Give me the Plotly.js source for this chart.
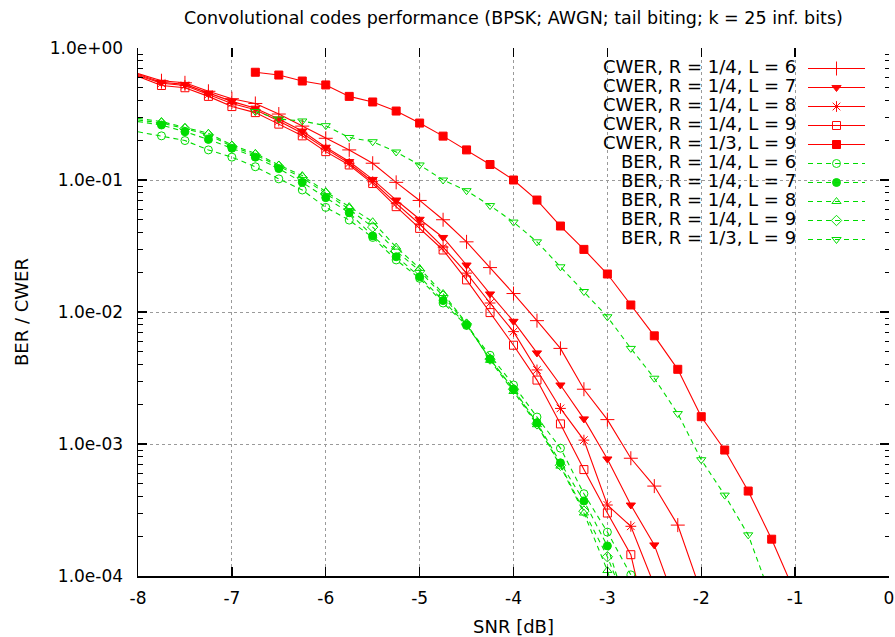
<!DOCTYPE html>
<html>
<head>
<meta charset="utf-8">
<script src="https://cdn.plot.ly/plotly-3.0.1.min.js"></script>
<style>html,body{margin:0;padding:0;background:#fff;}#chart{width:895px;height:637px;}</style>
</head>
<body>
<div id="chart"></div>
<script>
// ---- data ----
const snrQuarter = [-8, -7.75, -7.5, -7.25, -7, -6.75, -6.5, -6.25, -6, -5.75, -5.5, -5.25, -5,
  -4.75, -4.5, -4.25, -4, -3.75, -3.5, -3.25, -3, -2.75, -2.5, -2.25, -2];
const snrThird = [-6.75, -6.5, -6.25, -6, -5.75, -5.5, -5.25, -5, -4.75, -4.5, -4.25, -4, -3.75,
  -3.5, -3.25, -3, -2.75, -2.5, -2.25, -2, -1.75, -1.5, -1.25, -1];

const cwerR14L6 = [0.64, 0.565, 0.545, 0.47, 0.413, 0.38, 0.316, 0.256, 0.207, 0.169, 0.134, 0.096, 0.07,
  0.05, 0.034, 0.0217, 0.0138, 0.0086, 0.0053, 0.0026, 0.00153, 7.8e-4, 4.8e-4, 2.43e-4, 7.5e-5];
const cwerR14L7 = [0.63, 0.55, 0.53, 0.455, 0.394, 0.35, 0.29, 0.235, 0.177, 0.138, 0.101, 0.0705, 0.0504,
  0.0367, 0.0227, 0.0137, 0.0085, 0.0049, 0.0028, 0.00155, 7.7e-4, 3.45e-4, 1.72e-4, 5.6e-5];
const cwerR14L8 = [0.62, 0.54, 0.52, 0.445, 0.38, 0.34, 0.28, 0.226, 0.172, 0.134, 0.097, 0.0666, 0.0464,
  0.031, 0.0197, 0.0117, 0.0071, 0.00364, 0.00186, 0.00107, 3.45e-4, 2.38e-4, 8.5e-5];
const cwerR14L9 = [0.61, 0.52, 0.5, 0.43, 0.36, 0.324, 0.265, 0.216, 0.164, 0.13, 0.094, 0.0628, 0.043,
  0.0295, 0.0175, 0.0099, 0.0056, 0.00305, 0.00142, 6.4e-4, 3.0e-4, 1.45e-4, 2.5e-5];
const cwerR13L9 = [0.655, 0.624, 0.562, 0.525, 0.43, 0.39, 0.333, 0.27, 0.215, 0.169, 0.131, 0.1, 0.0705,
  0.0448, 0.0298, 0.0194, 0.0113, 0.0066, 0.00368, 0.00161, 9.0e-4, 4.4e-4, 1.9e-4, 7.4e-5];

const berR14L6 = [0.232, 0.216, 0.199, 0.169, 0.149, 0.126, 0.102, 0.084, 0.062, 0.0497, 0.0367, 0.0248, 0.018,
  0.0117, 0.0079, 0.0047, 0.0028, 0.0016, 9.3e-4, 4.2e-4, 2.15e-4, 1.02e-4];
const berR14L7 = [0.277, 0.261, 0.232, 0.203, 0.174, 0.149, 0.122, 0.096, 0.0735, 0.0565, 0.0377, 0.0262, 0.0185,
  0.0122, 0.008, 0.0044, 0.0026, 0.00145, 7.2e-4, 3.7e-4, 1.69e-4, 4.6e-5];
const berR14L8 = [0.293, 0.277, 0.25, 0.226, 0.184, 0.159, 0.13, 0.108, 0.0816, 0.0628, 0.0483, 0.031, 0.0214,
  0.0138, 0.0082, 0.0043, 0.0025, 0.0014, 6.8e-4, 3.0e-4, 1.1e-4, 3e-5];
const berR14L9 = [0.285, 0.27, 0.245, 0.22, 0.18, 0.155, 0.127, 0.104, 0.079, 0.06, 0.044, 0.029, 0.0205,
  0.0132, 0.0081, 0.0044, 0.0026, 0.00142, 6.9e-4, 3.1e-4, 1.4e-4, 5e-5];
const berR13L9 = [0.33, 0.29, 0.28, 0.258, 0.21, 0.195, 0.163, 0.13, 0.1, 0.083, 0.064, 0.048, 0.034,
  0.022, 0.0143, 0.0092, 0.0053, 0.00315, 0.0017, 7.6e-4, 4.1e-4, 2.05e-4, 6.7e-5];

const seriesNames = [
  'CWER, R = 1/4, L = 6', 'CWER, R = 1/4, L = 7', 'CWER, R = 1/4, L = 8', 'CWER, R = 1/4, L = 9',
  'CWER, R = 1/3, L = 9', 'BER, R = 1/4, L = 6', 'BER, R = 1/4, L = 7', 'BER, R = 1/4, L = 8',
  'BER, R = 1/4, L = 9', 'BER, R = 1/3, L = 9'];
const xTickVals = [-8, -7, -6, -5, -4, -3, -2, -1, 0];
const xTickText = ['-8', '-7', '-6', '-5', '-4', '-3', '-2', '-1', '0'];
const yTickVals = [1, 0.1, 0.01, 0.001, 0.0001];
const yTickText = ['1.0e+00', '1.0e-01', '1.0e-02', '1.0e-03', '1.0e-04'];

// ---- styling ----
const RED = '#ff0000';
const GREEN = '#00dc00';
const X_MIN = -8, X_MAX = 0;
const W = 895, H = 637;
const M = {l: 138, r: 6, t: 48, b: 61};
const PW = W - M.l - M.r, PH = H - M.t - M.b;
const FONT = 'DejaVu Sans, Liberation Sans, Arial, sans-serif';

const specs = [
  {x: snrQuarter, y: cwerR14L6, c: RED, sym: 'cross-thin-open', size: 10, dash: 'solid'},
  {x: snrQuarter, y: cwerR14L7, c: RED, sym: 'triangle-down', size: 8, dash: 'solid'},
  {x: snrQuarter, y: cwerR14L8, c: RED, sym: 'asterisk-open', size: 9, dash: 'solid'},
  {x: snrQuarter, y: cwerR14L9, c: RED, sym: 'square-open', size: 8, dash: 'solid'},
  {x: snrThird,   y: cwerR13L9, c: RED, sym: 'square', size: 8, dash: 'solid'},
  {x: snrQuarter, y: berR14L6, c: GREEN, sym: 'circle-open', size: 8, dash: '5px,4px'},
  {x: snrQuarter, y: berR14L7, c: GREEN, sym: 'circle', size: 8, dash: '5px,4px'},
  {x: snrQuarter, y: berR14L8, c: GREEN, sym: 'triangle-up-open', size: 8, dash: '5px,4px'},
  {x: snrQuarter, y: berR14L9, c: GREEN, sym: 'diamond-open', size: 8, dash: '5px,4px'},
  {x: snrThird,   y: berR13L9, c: GREEN, sym: 'triangle-down-open', size: 8, dash: '5px,4px'}
];

const traces = specs.map((s, i) => {
  const xs = s.x.slice(0, s.y.length);
  return {
    type: 'scatter', mode: 'lines+markers',
    x: xs, y: s.y,
    name: '', legendgroup: 'g' + i,
    hovertext: seriesNames[i],
    line: {color: s.c, width: 1.1, dash: s.dash},
    marker: {
      symbol: s.sym, size: s.size, color: s.c,
      // points lying on the plot border are not drawn (as in the reference)
      opacity: xs.map(v => (v <= X_MIN ? 0 : 1)),
      line: {color: s.c, width: 1}
    },
    cliponaxis: true
  };
});
// empty trace so the mirrored tick axes are drawn
traces.push({type: 'scatter', x: [], y: [], xaxis: 'x2', yaxis: 'y2', showlegend: false, hoverinfo: 'skip'});

// minor log ticks
const minorVals = [];
for (let d = -4; d < 0; d++) for (let k = 2; k <= 9; k++) minorVals.push(k * Math.pow(10, d));

const px2paperX = p => (p - M.l) / PW;
const px2paperY = p => (H - M.b - p) / PH;

const legendRow0 = 66.7, legendStep = 19.03;
const annotations = seriesNames.map((n, i) => ({
  text: n, xref: 'paper', yref: 'paper',
  x: px2paperX(798), y: px2paperY(legendRow0 + legendStep * i),
  xanchor: 'right', yanchor: 'middle', showarrow: false,
  font: {family: FONT, size: 18, color: '#000'}
}));

const axisCommon = {
  ticks: 'inside', ticklen: 9, tickwidth: 1.3, tickcolor: '#000',
  zeroline: false
};

const layout = {
  width: W, height: H,
  margin: {l: M.l, r: M.r, t: M.t, b: M.b, pad: 0},
  paper_bgcolor: '#fff', plot_bgcolor: '#fff',
  font: {family: FONT, color: '#000'},
  showlegend: true,
  title: {
    text: 'Convolutional codes performance (BPSK; AWGN; tail biting; k = 25 inf. bits)',
    font: {family: FONT, size: 17.5, color: '#000'},
    xref: 'paper', x: 0.5, xanchor: 'center',
    yref: 'container', y: 1 - 18 / H, yanchor: 'middle'
  },
  xaxis: Object.assign({}, axisCommon, {
    range: [X_MIN, X_MAX], tickmode: 'array', tickvals: xTickVals, ticktext: xTickText,
    showline: true, linecolor: '#000', linewidth: 1.5,
    showgrid: true, gridcolor: '#9a9a9a', griddash: 'dot', gridwidth: 1,
    tickfont: {family: FONT, size: 17, color: '#000'}, ticklabelstandoff: 6,
    title: {text: 'SNR [dB]', font: {family: FONT, size: 18, color: '#000'}, standoff: 14},
    automargin: false
  }),
  yaxis: Object.assign({}, axisCommon, {
    type: 'log', range: [-4, 0], tickmode: 'array', tickvals: yTickVals, ticktext: yTickText,
    showline: true, linecolor: '#000', linewidth: 1.5,
    showgrid: true, gridcolor: '#9a9a9a', griddash: 'dot', gridwidth: 1,
    minor: {tickmode: 'array', tickvals: minorVals, ticks: 'inside', ticklen: 4.5, tickwidth: 1, tickcolor: '#000', showgrid: false},
    tickfont: {family: FONT, size: 17, color: '#000'}, ticklabelstandoff: 10,
    title: {text: 'BER / CWER', font: {family: FONT, size: 18, color: '#000'}, standoff: 16},
    automargin: false
  }),
  xaxis2: Object.assign({}, axisCommon, {
    overlaying: 'x', side: 'top', anchor: 'y2',
    range: [X_MIN, X_MAX], tickmode: 'array', tickvals: xTickVals,
    showticklabels: false, showline: false, showgrid: false
  }),
  yaxis2: Object.assign({}, axisCommon, {
    overlaying: 'y', side: 'right', anchor: 'x2',
    type: 'log', range: [-4, 0], tickmode: 'array', tickvals: yTickVals,
    minor: {tickmode: 'array', tickvals: minorVals, ticks: 'inside', ticklen: 4.5, tickwidth: 1, tickcolor: '#000', showgrid: false},
    showticklabels: false, showline: false, showgrid: false
  }),
  legend: {
    x: px2paperX(803), y: px2paperY(54), xanchor: 'left', yanchor: 'top',
    bgcolor: 'rgba(0,0,0,0)', borderwidth: 0,
    font: {family: FONT, size: 12.3, color: '#000'},
    itemwidth: 57, tracegroupgap: 0, traceorder: 'normal'
  },
  annotations: annotations
};

Plotly.newPlot('chart', traces, layout, {displayModeBar: false, staticPlot: true});
</script>
</body>
</html>
